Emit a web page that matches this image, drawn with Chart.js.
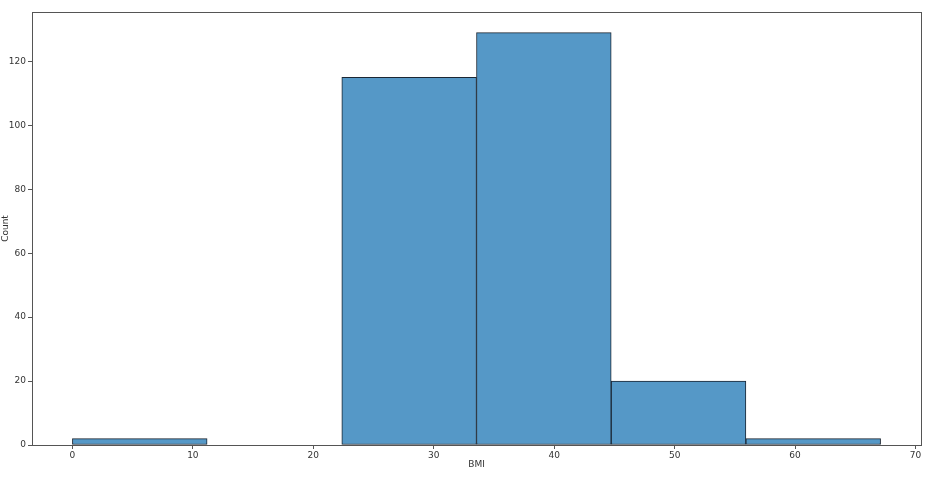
<!DOCTYPE html>
<html>
<head>
<meta charset="utf-8">
<script src="https://cdn.jsdelivr.net/npm/chart.js@4/dist/chart.umd.min.js"></script>
<style>
  html, body { margin: 0; padding: 0; background: #fff; }
  #wrap { position: relative; width: 936px; height: 480px; }
  canvas { display: block; }
</style>
</head>
<body>
<div id="wrap"><canvas id="histChart" width="936" height="480"></canvas></div>
<script>
// histogram bins (BMI) and counts
const binEdges = [0, 11.183, 22.367, 33.55, 44.733, 55.917, 67.1];
const counts = [2, 0, 115, 129, 20, 2];
const xTicks = [0, 10, 20, 30, 40, 50, 60, 70];
const yTicks = [0, 20, 40, 60, 80, 100, 120];

const BAR_FILL = "rgb(85,152,199)";
const BAR_EDGE = "#1b2633";
const AXIS_COLOR = "#555";
const TEXT_COLOR = "#333";

const points = counts.map((c, i) => ({ x: (binEdges[i] + binEdges[i + 1]) / 2, y: c }));

// matplotlib-like full frame around the plot area
const framePlugin = {
  id: "frame",
  afterDraw(chart) {
    const { ctx, chartArea: a } = chart;
    ctx.save();
    ctx.strokeStyle = AXIS_COLOR;
    ctx.lineWidth = 1;
    ctx.strokeRect(Math.round(a.left) + 0.5, Math.round(a.top) + 0.5,
      Math.round(a.right - a.left), Math.round(a.bottom - a.top));
    ctx.restore();
  }
};

const ctx = document.getElementById("histChart").getContext("2d");
new Chart(ctx, {
  type: "bar",
  data: {
    datasets: [{
      label: "Count",
      data: points,
      backgroundColor: BAR_FILL,
      borderColor: BAR_EDGE,
      borderWidth: 1,
      barThickness: "flex",
      barPercentage: 1,
      categoryPercentage: 1,
      borderSkipped: false
    }]
  },
  options: {
    responsive: false,
    animation: false,
    layout: { padding: { left: 0, right: 15, top: 12, bottom: 0 } },
    plugins: { legend: { display: false }, tooltip: { enabled: false } },
    scales: {
      x: {
        type: "linear",
        offset: false,
        min: -3.355,
        max: 70.455,
        afterBuildTicks: (axis) => { axis.ticks = xTicks.map(v => ({ value: v })); },
        afterFit: (axis) => { axis.height = 35; },
        grid: { offset: false, drawOnChartArea: false, drawTicks: true, tickLength: 4, color: AXIS_COLOR },
        border: { color: AXIS_COLOR },
        ticks: { color: TEXT_COLOR, font: { family: "DejaVu Sans", size: 9 }, padding: 1, maxRotation: 0 },
        title: { display: true, text: "BMI", color: TEXT_COLOR, font: { family: "DejaVu Sans", size: 9 }, padding: { top: 0, bottom: 10 } }
      },
      y: {
        min: 0,
        max: 135.45,
        afterBuildTicks: (axis) => { axis.ticks = yTicks.map(v => ({ value: v })); },
        afterFit: (axis) => { axis.width = 32; },
        grid: { drawOnChartArea: false, drawTicks: true, tickLength: 4, color: AXIS_COLOR },
        border: { color: AXIS_COLOR },
        ticks: { color: TEXT_COLOR, font: { family: "DejaVu Sans", size: 9 }, padding: 2 },
        title: { display: true, text: "Count", color: TEXT_COLOR, font: { family: "DejaVu Sans", size: 9 }, padding: 0 }
      }
    }
  },
  plugins: [framePlugin]
});
</script>
</body>
</html>
